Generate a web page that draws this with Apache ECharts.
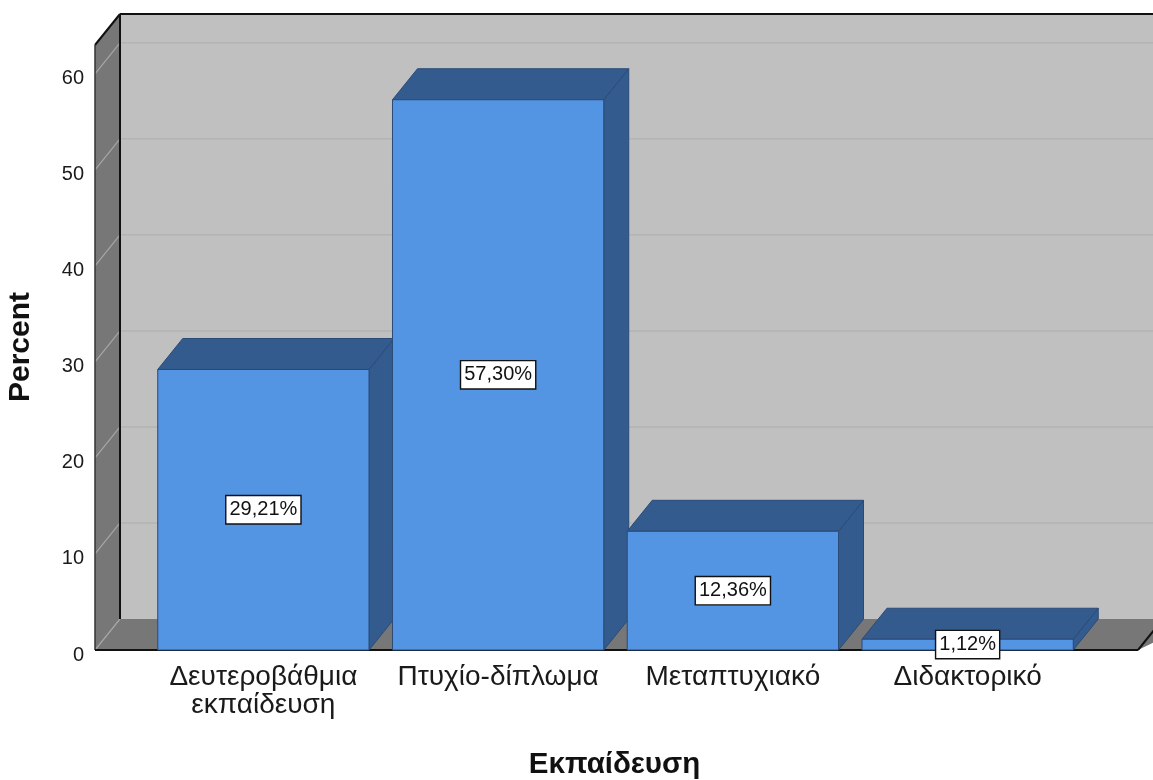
<!DOCTYPE html>
<html>
<head>
<meta charset="utf-8">
<script src="https://cdn.jsdelivr.net/npm/echarts@6/dist/echarts.min.js"></script>
<style>
  html, body { margin: 0; padding: 0; background: #ffffff; }
  #chart { width: 1153px; height: 780px; }
</style>
</head>
<body>
<div id="chart"></div>
<script>
// Education level distribution (percent of respondents)
const categories = ['Δευτεροβάθμια\nεκπαίδευση', 'Πτυχίο-δίπλωμα', 'Μεταπτυχιακό', 'Διδακτορικό'];
const percentValues = [29.21, 57.30, 12.36, 1.12];
const yTickValues = [0, 10, 20, 30, 40, 50, 60];
const yAxisMax = 63;
const xAxisTitle = 'Εκπαίδευση';
const yAxisTitle = 'Percent';

// oblique projection offset for the 3-D boxes and walls
const DX = 25, DY = 31;
const WALL_PAD_LEFT = 51, WALL_PAD_RIGHT = 53;
const FACE = '#5394E3', SHADE = '#345B8D', EDGE = '#2A4B78';
const WALL = '#C0C0C0', WALL_SIDE = '#777777';
const FONT = '"Liberation Sans", Arial, sans-serif';

function formatPercent(v) {
  return v.toFixed(2).replace('.', ',') + '%';
}

// back wall, left wall, floor and their grid lines
function renderFrame(params, api) {
  const cs = params.coordSys;
  const xl = cs.x - WALL_PAD_LEFT;
  const xr = cs.x + cs.width + WALL_PAD_RIGHT;
  const yb = api.coord([0, 0])[1];
  const yt = api.coord([0, yAxisMax])[1];
  const kids = [];
  kids.push({ type: 'polygon', shape: { points: [[xl + DX, yt - DY], [xr + DX + 40, yt - DY], [xr + DX + 40, yb - DY], [xl + DX, yb - DY]] }, style: { fill: WALL } });
  kids.push({ type: 'polygon', shape: { points: [[xl, yt], [xl + DX, yt - DY], [xl + DX, yb - DY], [xl, yb]] }, style: { fill: WALL_SIDE } });
  kids.push({ type: 'polygon', shape: { points: [[xl, yb], [xl + DX, yb - DY], [xr + DX + 40, yb - DY], [xr, yb]] }, style: { fill: WALL_SIDE } });
  yTickValues.forEach(function (t) {
    const y = api.coord([0, t])[1];
    if (t > 0) {
      kids.push({ type: 'line', shape: { x1: xl + DX, y1: y - DY, x2: xr + DX + 40, y2: y - DY }, style: { stroke: '#B3B3B3', lineWidth: 1.5 } });
    }
    kids.push({ type: 'line', shape: { x1: xl, y1: y, x2: xl + DX, y2: y - DY }, style: { stroke: '#A6A6A6', lineWidth: 1.2 } });
  });
  // frame edges
  const edge = { stroke: '#111111', lineWidth: 2 };
  kids.push({ type: 'line', shape: { x1: xl + DX, y1: yt - DY, x2: xr + DX + 40, y2: yt - DY }, style: edge });
  kids.push({ type: 'line', shape: { x1: xl, y1: yt, x2: xl + DX, y2: yt - DY }, style: edge });
  kids.push({ type: 'line', shape: { x1: xl + DX, y1: yt - DY, x2: xl + DX, y2: yb - DY }, style: edge });
  kids.push({ type: 'line', shape: { x1: xl, y1: yt, x2: xl, y2: yb }, style: { stroke: '#333333', lineWidth: 1.5 } });
  kids.push({ type: 'line', shape: { x1: xl, y1: yb, x2: xr, y2: yb }, style: edge });
  kids.push({ type: 'line', shape: { x1: xr, y1: yb, x2: xr + DX, y2: yb - DY }, style: edge });
  return { type: 'group', silent: true, children: kids };
}

// one 3-D box per category with its value label on the front face
function renderBar(params, api) {
  const idx = api.value(0);
  const v = api.value(1);
  const base = api.coord([idx, 0]);
  const top = api.coord([idx, v]);
  const w = api.size([1, 0])[0] * 0.9;
  const x0 = base[0] - w / 2, x1 = base[0] + w / 2;
  const y0 = base[1], y1 = top[1];
  const mid = api.coord([idx, v / 2])[1];
  return {
    type: 'group',
    children: [
      { type: 'polygon', shape: { points: [[x1, y1], [x1 + DX, y1 - DY], [x1 + DX, y0 - DY], [x1, y0]] }, style: { fill: SHADE, stroke: EDGE, lineWidth: 1 } },
      { type: 'polygon', shape: { points: [[x0, y1], [x0 + DX, y1 - DY], [x1 + DX, y1 - DY], [x1, y1]] }, style: { fill: SHADE, stroke: EDGE, lineWidth: 1 } },
      { type: 'rect', shape: { x: x0, y: y1, width: w, height: y0 - y1 }, style: { fill: FACE, stroke: EDGE, lineWidth: 1 } },
      {
        type: 'text', x: base[0], y: mid, z2: 10,
        style: {
          text: formatPercent(v), fill: '#111111', font: '20px ' + FONT,
          align: 'center', verticalAlign: 'middle',
          backgroundColor: '#ffffff', borderColor: '#111111', borderWidth: 1.4,
          padding: [4, 3, 3, 3]
        }
      }
    ]
  };
}

const chart = echarts.init(document.getElementById('chart'), null, { renderer: 'canvas' });
chart.setOption({
  animation: false,
  backgroundColor: '#ffffff',
  grid: { left: 146, right: 68, top: 45, bottom: 130 },
  xAxis: {
    type: 'category',
    data: categories,
    axisLine: { show: false },
    axisTick: { show: false },
    splitLine: { show: false },
    axisLabel: { interval: 0, margin: 13, fontSize: 28, lineHeight: 28, fontFamily: FONT, color: '#1a1a1a' }
  },
  yAxis: {
    type: 'value',
    min: 0,
    max: yAxisMax,
    interval: 10,
    axisLine: { show: false },
    axisTick: { show: false },
    splitLine: { show: false },
    axisLabel: { showMaxLabel: false, margin: 62, fontSize: 20, lineHeight: 10, verticalAlign: 'top', fontFamily: FONT, color: '#1a1a1a' }
  },
  graphic: [
    { type: 'text', x: 21, y: 347, rotation: Math.PI / 2, style: { text: yAxisTitle, font: 'bold 30px ' + FONT, fill: '#111111', align: 'center', verticalAlign: 'middle' } },
    { type: 'text', x: 614.5, y: 765, style: { text: xAxisTitle, font: 'bold 29.5px ' + FONT, fill: '#111111', align: 'center', verticalAlign: 'middle' } }
  ],
  series: [
    { type: 'custom', name: 'frame', renderItem: renderFrame, data: [[0, 0]], z: 1, silent: true, clip: false },
    {
      type: 'custom', name: 'Percent', renderItem: renderBar, z: 2, clip: false,
      encode: { x: 0, y: 1 },
      data: percentValues.map(function (v, i) { return [i, v]; })
    }
  ]
});
</script>
</body>
</html>
